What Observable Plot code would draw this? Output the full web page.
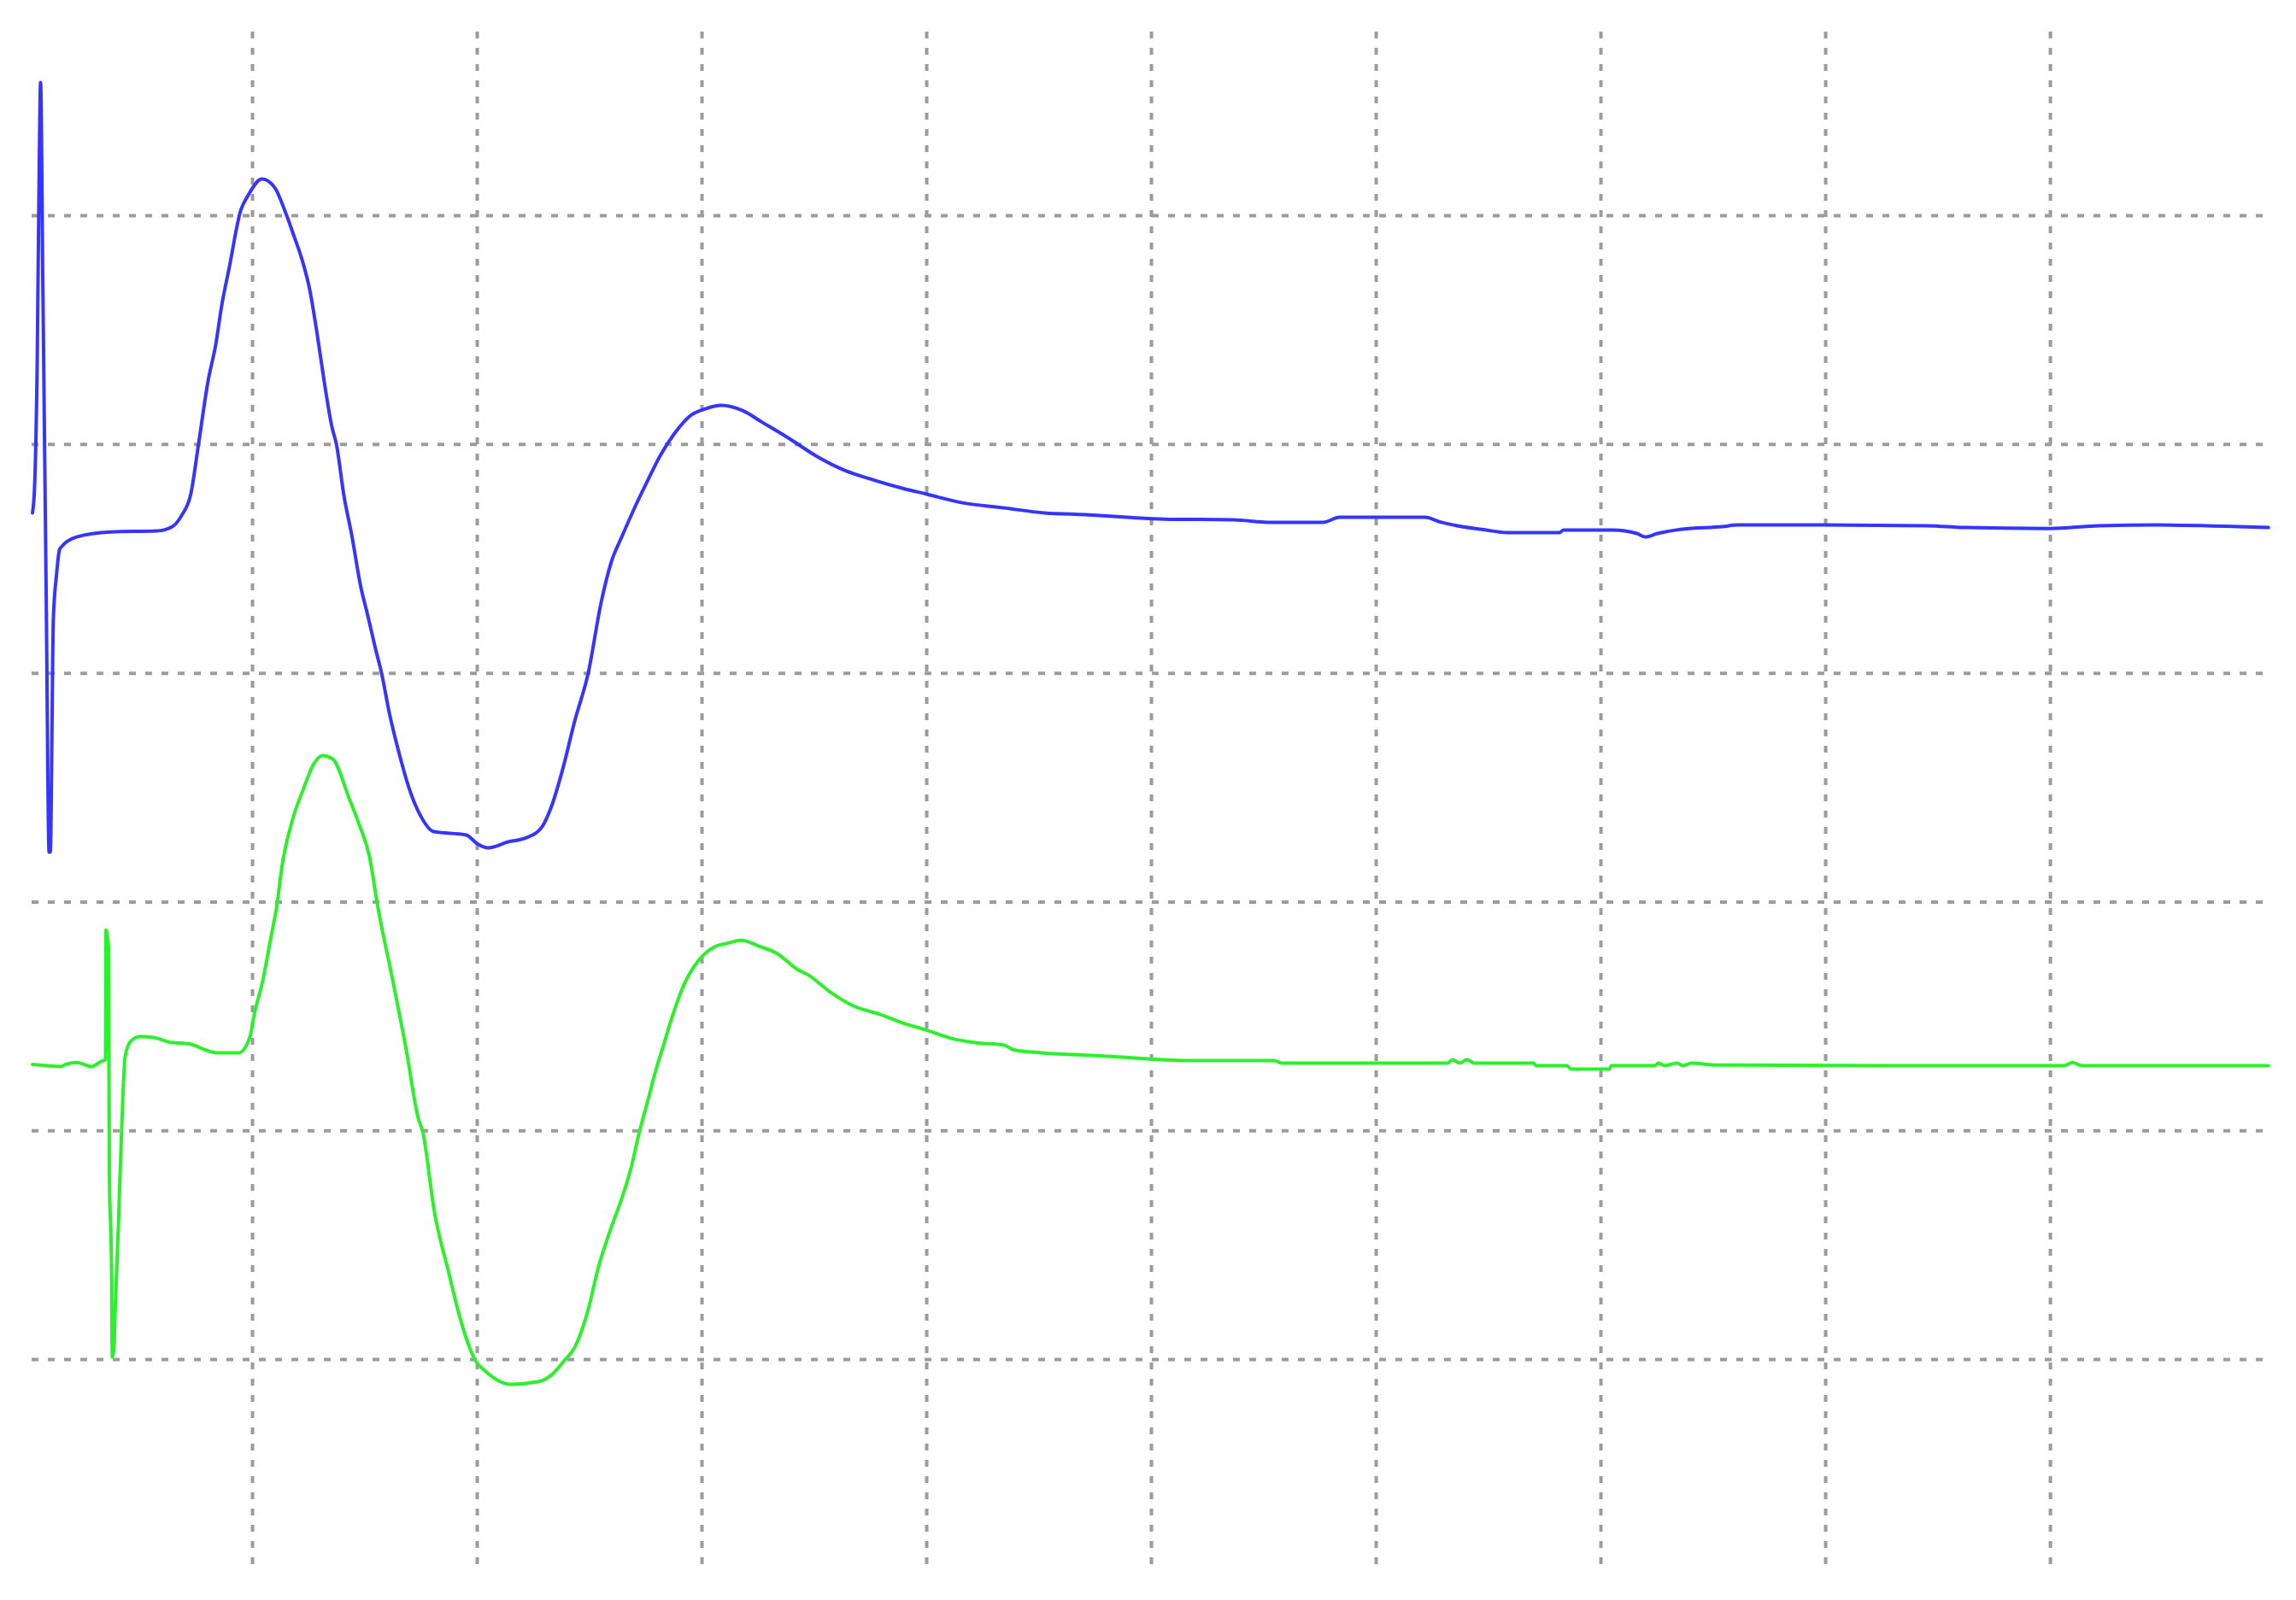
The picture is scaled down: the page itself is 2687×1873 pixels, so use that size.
<!DOCTYPE html>
<html>
<head>
<meta charset="utf-8">
<script src="https://cdn.jsdelivr.net/npm/d3@7"></script>
<script src="https://cdn.jsdelivr.net/npm/@observablehq/plot@0.6"></script>
<style>
  html, body { margin: 0; padding: 0; background: #ffffff; }
  #chart svg { display: block; }
</style>
</head>
<body>
<div id="chart"></div>
<script>
// Grid divisions (oscilloscope-style screen)
const gridX = [1, 2, 3, 4, 5, 6, 7, 8, 9];
const gridY = [0, 1, 2, 3, 4, 5];

// Upper (blue) trace: time in divisions, value in divisions
const blueT = [0.021, 0.030, 0.042, 0.051, 0.057, 0.067, 0.082, 0.095, 0.100, 0.114, 0.128, 0.141, 0.148, 0.217, 0.369, 0.574, 0.643, 0.684, 0.726, 0.760, 0.802, 0.837, 0.863, 0.897, 0.947, 0.981, 1.042, 1.099, 1.144, 1.186, 1.221, 1.255, 1.289, 1.319, 1.354, 1.373, 1.407, 1.441, 1.483, 1.510, 1.551, 1.574, 1.608, 1.654, 1.703, 1.745, 1.806, 1.951, 2.000, 2.049, 2.137, 2.221, 2.289, 2.331, 2.380, 2.433, 2.494, 2.551, 2.597, 2.643, 2.707, 2.760, 2.814, 2.886, 2.943, 3.015, 3.087, 3.179, 3.270, 3.395, 3.506, 3.635, 3.760, 3.890, 4.000, 4.160, 4.342, 4.525, 4.707, 4.890, 5.057, 5.365, 5.529, 5.764, 5.837, 6.217, 6.289, 6.361, 6.490, 6.582, 6.817, 6.833, 7.053, 7.160, 7.198, 7.251, 7.361, 7.540, 7.608, 7.996, 8.452, 8.624, 8.996, 9.217, 9.475, 9.970];
const blueV = [3.701, 3.809, 4.365, 5.224, 5.583, 4.709, 3.338, 2.218, 2.218, 3.241, 3.432, 3.540, 3.551, 3.596, 3.618, 3.622, 3.641, 3.689, 3.786, 4.003, 4.276, 4.440, 4.608, 4.776, 5.022, 5.090, 5.161, 5.123, 5.022, 4.907, 4.806, 4.675, 4.474, 4.276, 4.074, 4.003, 3.775, 3.607, 3.372, 3.264, 3.092, 3.002, 2.830, 2.644, 2.479, 2.382, 2.308, 2.293, 2.255, 2.237, 2.263, 2.282, 2.330, 2.420, 2.580, 2.789, 3.002, 3.308, 3.488, 3.596, 3.738, 3.846, 3.951, 4.059, 4.122, 4.156, 4.171, 4.149, 4.096, 4.022, 3.951, 3.887, 3.846, 3.809, 3.783, 3.745, 3.723, 3.701, 3.693, 3.682, 3.674, 3.671, 3.660, 3.660, 3.682, 3.682, 3.660, 3.645, 3.626, 3.615, 3.615, 3.626, 3.626, 3.611, 3.596, 3.611, 3.630, 3.641, 3.648, 3.648, 3.645, 3.637, 3.633, 3.645, 3.648, 3.637];

// Lower (green) trace
const greenT = [0.021, 0.150, 0.167, 0.217, 0.285, 0.319, 0.337, 0.346, 0.348, 0.354, 0.359, 0.363, 0.373, 0.376, 0.384, 0.388, 0.403, 0.422, 0.433, 0.456, 0.498, 0.559, 0.624, 0.726, 0.795, 0.844, 0.939, 0.989, 1.008, 1.046, 1.084, 1.110, 1.129, 1.175, 1.228, 1.274, 1.312, 1.357, 1.430, 1.475, 1.521, 1.555, 1.627, 1.684, 1.738, 1.757, 1.810, 1.875, 1.920, 1.992, 2.038, 2.148, 2.270, 2.338, 2.388, 2.433, 2.490, 2.540, 2.593, 2.646, 2.684, 2.722, 2.757, 2.795, 2.829, 2.867, 2.920, 2.985, 3.057, 3.110, 3.175, 3.259, 3.331, 3.422, 3.475, 3.567, 3.673, 3.783, 3.894, 3.996, 4.110, 4.221, 4.346, 4.384, 4.510, 4.654, 4.837, 4.996, 5.163, 5.548, 5.578, 6.319, 6.338, 6.373, 6.403, 6.437, 6.700, 6.711, 6.848, 6.867, 7.038, 7.046, 7.240, 7.255, 7.285, 7.338, 7.365, 7.403, 7.502, 8.243, 9.061, 9.099, 9.137, 9.970];
const greenV = [1.290, 1.281, 1.290, 1.299, 1.281, 1.299, 1.307, 1.311, 1.878, 1.852, 1.807, 0.825, 0.388, 0.011, 0.060, 0.190, 0.579, 1.124, 1.322, 1.389, 1.412, 1.408, 1.389, 1.378, 1.352, 1.341, 1.341, 1.412, 1.509, 1.658, 1.856, 1.994, 2.143, 2.349, 2.498, 2.606, 2.640, 2.625, 2.453, 2.338, 2.196, 1.994, 1.643, 1.355, 1.053, 0.997, 0.642, 0.373, 0.194, -0.004, -0.052, -0.108, -0.097, -0.060, -0.004, 0.052, 0.205, 0.407, 0.568, 0.713, 0.836, 0.997, 1.124, 1.266, 1.374, 1.497, 1.639, 1.745, 1.805, 1.819, 1.833, 1.805, 1.777, 1.707, 1.680, 1.609, 1.546, 1.512, 1.471, 1.441, 1.404, 1.385, 1.374, 1.355, 1.341, 1.333, 1.324, 1.314, 1.307, 1.307, 1.296, 1.296, 1.311, 1.296, 1.311, 1.296, 1.296, 1.285, 1.285, 1.270, 1.270, 1.285, 1.285, 1.296, 1.285, 1.296, 1.285, 1.296, 1.288, 1.285, 1.285, 1.299, 1.285, 1.285];

const blue = blueT.map((t, i) => ({t, v: blueV[i]}));
const green = greenT.map((t, i) => ({t, v: greenV[i]}));

const gridStyle = {stroke: "#9c9c9c", strokeWidth: 4, strokeDasharray: "8,11"};

const chart = Plot.plot({
  width: 2687,
  height: 1873,
  marginLeft: 37,
  marginRight: 32,
  marginTop: 37,
  marginBottom: 31,
  style: {background: "#ffffff", overflow: "visible"},
  x: {domain: [0.019, 9.973], axis: null},
  y: {domain: [-0.937, 5.803], axis: null},
  marks: [
    Plot.ruleX(gridX, gridStyle),
    Plot.ruleY(gridY, gridStyle),
    Plot.line(blue, {x: "t", y: "v", stroke: "#3535ff", strokeWidth: 4, strokeLinejoin: "round", curve: "monotone-x"}),
    Plot.line(green, {x: "t", y: "v", stroke: "#2cf02c", strokeWidth: 4, strokeLinejoin: "round", curve: "monotone-x"})
  ]
});
document.getElementById("chart").appendChild(chart);
</script>
</body>
</html>
